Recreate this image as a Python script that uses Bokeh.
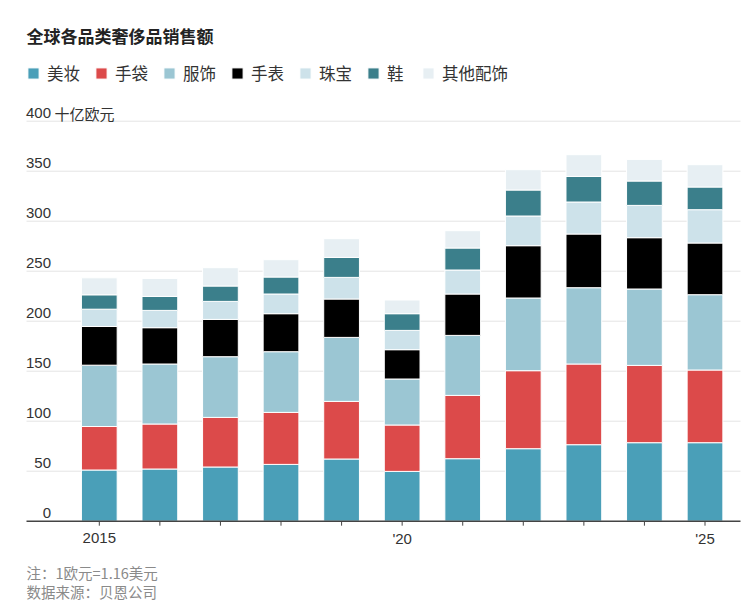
from bokeh.plotting import figure
from bokeh.models import Range1d, Legend, LegendItem, ColumnDataSource
from bokeh.core.properties import value
from bokeh.embed import file_html
from bokeh.resources import INLINE

# ---------------- data ----------------
years = [2015, 2016, 2017, 2018, 2019, 2020, 2021, 2022, 2023, 2024, 2025]
categories = ["美妆", "手袋", "服饰", "手表", "珠宝", "鞋", "其他配饰"]
beauty    = [51.2, 52.2, 54.2, 56.8, 62.2, 49.8, 62.5, 72.5, 76.5, 78.5, 78.5]
handbags  = [43.5, 45.0, 49.6, 52.0, 57.6, 46.4, 63.3, 78.0, 80.7, 77.3, 72.7]
apparel   = [61.3, 60.0, 60.7, 60.7, 64.0, 46.0, 60.0, 72.7, 76.3, 76.4, 75.3]
watches   = [38.7, 36.3, 37.3, 38.0, 38.4, 29.3, 41.4, 52.3, 53.7, 51.3, 51.7]
jewelry   = [17.3, 17.3, 18.0, 19.7, 21.6, 19.3, 24.0, 29.7, 32.0, 32.3, 33.3]
shoes     = [14.4, 14.0, 15.4, 17.0, 20.0, 16.7, 22.0, 26.0, 25.6, 24.4, 22.7]
other     = [17.0, 18.0, 18.3, 17.3, 18.7, 13.7, 17.3, 20.3, 21.7, 21.6, 22.3]
y_ticks = [0, 50, 100, 150, 200, 250, 300, 350, 400]
y_tick_labels = ["0", "50", "100", "150", "200", "250", "300", "350", "400"]
y_unit = "十亿欧元"
x_label_years = [2015, 2020, 2025]
x_labels = ["2015", "'20", "'25"]
title_text = "全球各品类奢侈品销售额"
notes = ["注：1欧元=1.16美元", "数据来源：贝恩公司"]

colors = ["#4a9fb8", "#dc4a4a", "#9bc6d3", "#000000", "#cde2ea", "#3b7f8b", "#e7eff3"]

# ---------------- layout (pixels) ----------------
W, H = 750, 608
X0, DX = 98.8, 60.57      # pixel of first year centre, pixels per year
Y0 = 520.7                # pixel of value 0 (1 unit = 1 px)
LABEL_LIFT = 8            # px between grid line and centre of its label

def xv(px):
    return years[0] + (px - X0) / DX

def yv(py):
    return Y0 - py

p = figure(width=W, height=H, output_backend="svg", toolbar_location=None,
           x_range=Range1d(xv(0), xv(W)), y_range=Range1d(yv(H), yv(0)),
           x_axis_type=None, y_axis_type=None, min_border=0)
p.outline_line_color = None
p.background_fill_color = "white"
p.border_fill_color = "white"

CJK = value("Noto Sans CJK SC")
NUM = value("Liberation Sans")

# grid lines
gl = y_ticks[1:]
p.segment(x0=[xv(26)] * len(gl), y0=gl, x1=[xv(740)] * len(gl), y1=gl,
          line_color="#e4e4e4", line_width=1)

# stacked bars
src = ColumnDataSource(dict(year=years, 美妆=beauty, 手袋=handbags, 服饰=apparel,
                            手表=watches, 珠宝=jewelry, 鞋=shoes, 其他配饰=other))
renderers = p.vbar_stack(categories, x="year", width=0.59, source=src,
                         fill_color=colors, line_color="white", line_width=1)

# baseline and ticks
p.segment(x0=[xv(26)], y0=[0], x1=[xv(740)], y1=[0], line_color="#444444", line_width=1.5)
p.segment(x0=years, y0=[0] * len(years), x1=years, y1=[-4.5] * len(years),
          line_color="#444444", line_width=1)

# x labels
p.text(x=x_label_years, y=[yv(537.5)] * len(x_label_years), text=x_labels,
       text_font=NUM, text_font_size="15px", text_color="#333333",
       text_align="center", text_baseline="middle")

# y labels (sit just above their grid lines)
p.text(x=[xv(50.5)] * len(y_ticks), y=[t + LABEL_LIFT for t in y_ticks], text=y_tick_labels,
       text_font=NUM, text_font_size="15px", text_color="#333333",
       text_align="right", text_baseline="middle")
p.text(x=[xv(54)], y=[y_ticks[-1] + LABEL_LIFT], text=[y_unit],
       text_font=CJK, text_font_size="15px", text_color="#333333",
       text_align="left", text_baseline="middle")

# title
p.text(x=[xv(26)], y=[yv(35)], text=[title_text], text_font=CJK,
       text_font_size="17px", text_font_style="bold", text_color="#222222",
       text_align="left", text_baseline="middle")

# notes
p.text(x=[xv(26)] * 2, y=[yv(571.5), yv(590.5)], text=notes, text_font=CJK,
       text_font_size="14.5px", text_color="#8a8a8a",
       text_align="left", text_baseline="middle")

# legend
legend = Legend(items=[LegendItem(label=c, renderers=[r]) for c, r in zip(categories, renderers)],
                orientation="horizontal", location=(26, H - 85),
                glyph_width=14, glyph_height=14, label_standoff=7, spacing=14,
                label_height=15, padding=0, margin=0,
                label_text_font="Noto Sans CJK SC", label_text_font_size="16.5px",
                label_text_color="#333333",
                border_line_color=None, background_fill_alpha=0)
p.add_layout(legend, "center")

open("out.html", "w").write(file_html(p, INLINE))
